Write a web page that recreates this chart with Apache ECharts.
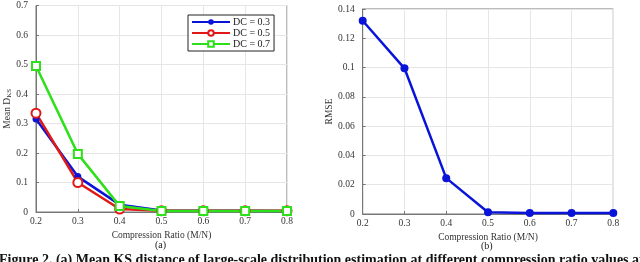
<!DOCTYPE html>
<html><head><meta charset="utf-8">
<script src="https://cdn.jsdelivr.net/npm/echarts@6/dist/echarts.min.js"></script>
<style>html,body{margin:0;padding:0;background:#fff}#c{width:640px;height:262px}</style>
</head><body><div id="c"></div>
<script>
const ratios = [0.2, 0.3, 0.4, 0.5, 0.6, 0.7, 0.8];
const dc03 = [0.315, 0.12, 0.025, 0.005, 0.004, 0.004, 0.003];
const dc05 = [0.335, 0.10, 0.010, 0.004, 0.004, 0.004, 0.004];
const dc07 = [0.495, 0.197, 0.020, 0.003, 0.003, 0.003, 0.003];
const rmse = [0.132, 0.0995, 0.0245, 0.0012, 0.0006, 0.0006, 0.0006];
const xTicks = ['0.2','0.3','0.4','0.5','0.6','0.7','0.8'];
const caption = 'Figure 2. (a) Mean KS distance of large-scale distribution estimation at different compression ratio values at';

const F = 'Liberation Serif';
const fmt = v => String(parseFloat(v.toFixed(3)));
function xAx(gi){
  return {gridIndex:gi,type:'value',min:0.2,max:0.8,interval:0.1,
    name:'Compression Ratio (M/N)',nameLocation:'middle',nameGap:9,
    nameTextStyle:{fontFamily:F,fontSize:9.5,color:'#333'},
    axisLine:{show:true,lineStyle:{color:'#777'}},
    axisTick:{show:true,inside:true,length:3,lineStyle:{color:'#777'}},
    axisLabel:{fontFamily:F,fontSize:9.5,color:'#333',margin:4,formatter:v=>fmt(v)},
    splitLine:{show:true,lineStyle:{color:'#e6e6e6'}}};
}
function yAx(gi,max,itv,name,gap){
  return {gridIndex:gi,type:'value',min:0,max:max,interval:itv,
    name:name,nameLocation:'middle',nameGap:gap,
    nameTextStyle:{fontFamily:F,fontSize:9.5,color:'#333',rich:{s:{fontFamily:F,fontSize:7,color:'#333',verticalAlign:'bottom',padding:[0,0,0,0]}}},
    axisLine:{show:true,lineStyle:{color:'#777'}},
    axisTick:{show:true,inside:true,length:3,lineStyle:{color:'#777'}},
    axisLabel:{fontFamily:F,fontSize:9.5,color:'#333',margin:8,formatter:v=>fmt(v)},
    splitLine:{show:true,lineStyle:{color:'#e6e6e6'}}};
}
function pts(arr){return ratios.map((r,i)=>[r,arr[i]]);}
const chart = echarts.init(document.getElementById('c'));
chart.setOption({
  animation:false,
  backgroundColor:'#fff',
  grid:[
    {left:36,top:5.5,width:251,height:206.5,show:true,borderColor:'#777',borderWidth:1,backgroundColor:'transparent'},
    {left:362.7,top:9,width:250.6,height:205,show:true,borderColor:'#777',borderWidth:1,backgroundColor:'transparent'}
  ],
  xAxis:[xAx(0),xAx(1)],
  yAxis:[yAx(0,0.7,0.1,'Mean D{s|KS}',23),yAx(1,0.14,0.02,'RMSE',28)],
  legend:{
    data:['DC = 0.3','DC = 0.5','DC = 0.7'],
    left:188,top:15,orient:'vertical',itemGap:1,itemWidth:38,itemHeight:7,
    padding:[2,4,2,3],
    borderColor:'#222',borderWidth:1,backgroundColor:'#fff',
    textStyle:{fontFamily:F,fontSize:10,color:'#222',padding:[0,0,0,-2]}
  },
  series:[
    {name:'DC = 0.3',type:'line',xAxisIndex:0,yAxisIndex:0,data:pts(dc03),
     color:'#0a14d8',lineStyle:{width:2.5},symbol:'circle',symbolSize:7},
    {name:'DC = 0.5',type:'line',xAxisIndex:0,yAxisIndex:0,data:pts(dc05),
     color:'#e01818',lineStyle:{width:2.5},symbol:'emptyCircle',symbolSize:9,itemStyle:{borderWidth:2.5}},
    {name:'DC = 0.7',type:'line',xAxisIndex:0,yAxisIndex:0,data:pts(dc07),
     color:'#2ee01a',lineStyle:{width:2.5},symbol:'emptyRect',symbolSize:8,itemStyle:{borderWidth:2}},
    {name:'RMSE',type:'line',xAxisIndex:1,yAxisIndex:1,data:pts(rmse),
     color:'#0a14d8',lineStyle:{width:2.5},symbol:'circle',symbolSize:8}
  ],
  graphic:[
    {type:'text',left:155,top:240,style:{text:'(a)',font:'10px "Liberation Serif"',fill:'#222'}},
    {type:'text',left:481,top:241,style:{text:'(b)',font:'10px "Liberation Serif"',fill:'#222'}},
    {type:'text',left:-1,top:253,style:{text:caption,font:'bold 14px "Liberation Serif"',fill:'#111'}}
  ]
});
</script></body></html>
